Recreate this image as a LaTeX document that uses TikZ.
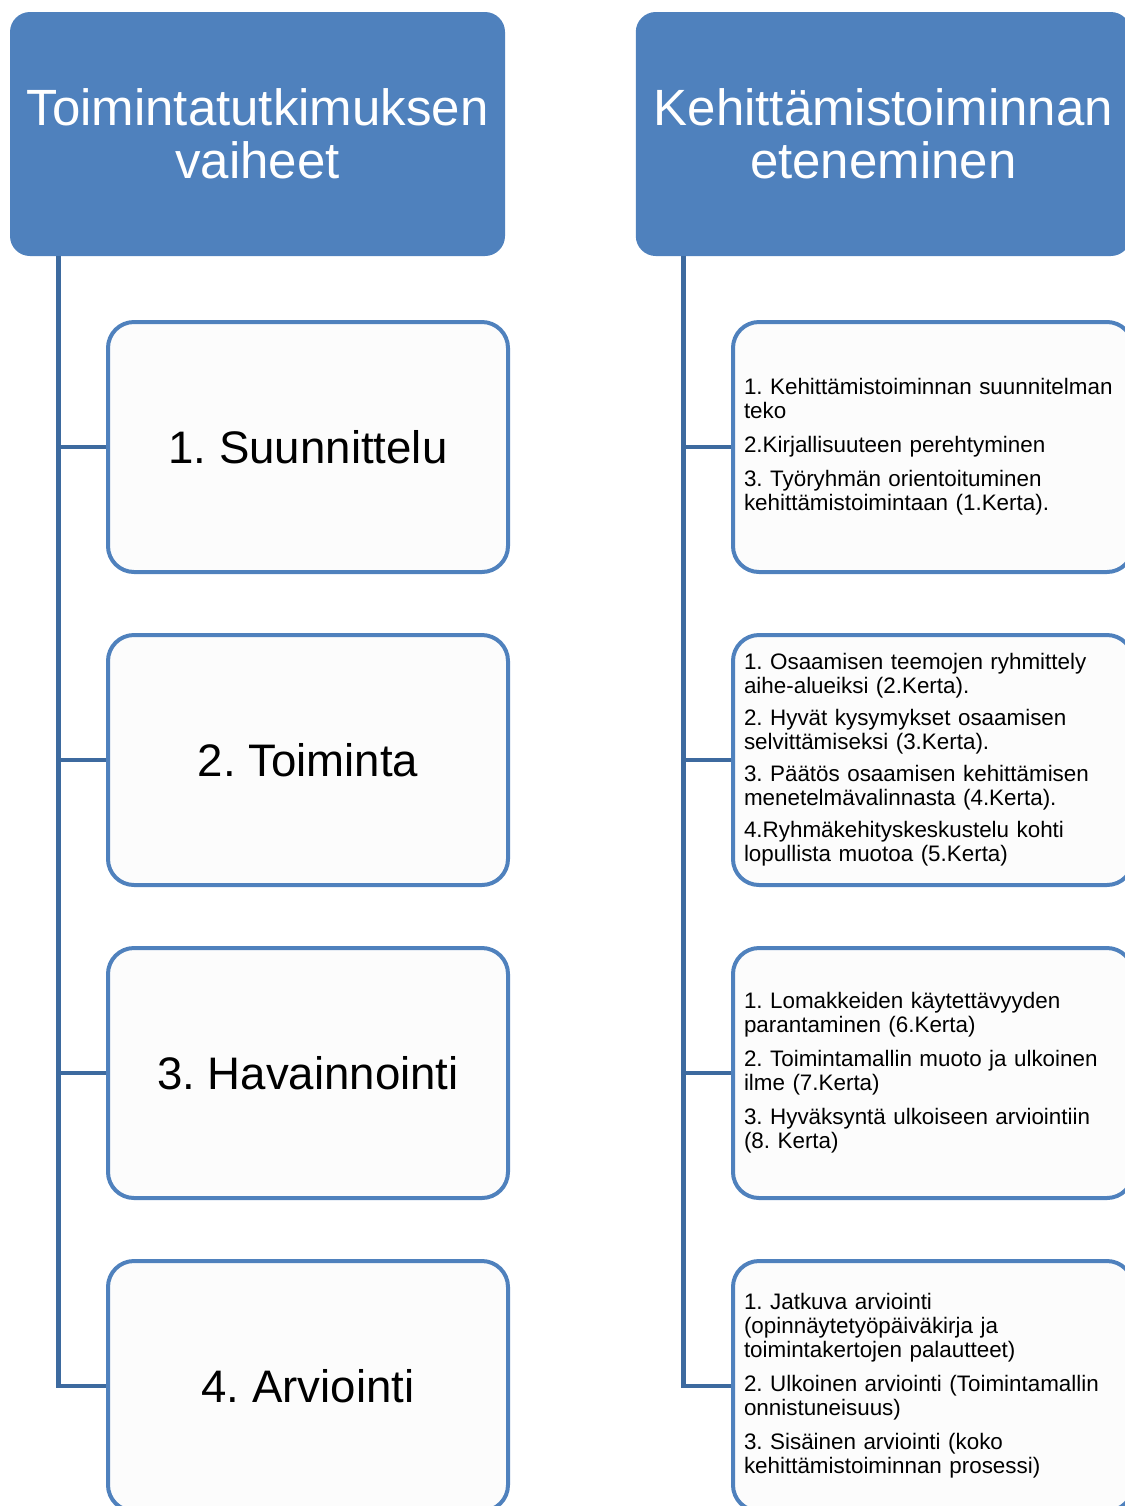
\documentclass[tikz,border=0pt]{standalone}
\usepackage{fontspec}
\setmainfont{Liberation Sans}
\usepackage{xcolor}
\usetikzlibrary{positioning,calc}

\definecolor{headblue}{HTML}{4F81BD}
\definecolor{lineblue}{HTML}{3D6A9F}
\definecolor{boxfill}{HTML}{FCFCFC}

\frenchspacing

\begin{document}
\begin{tikzpicture}[
    x=0.5pt, y=-0.5pt,
    header/.style={rectangle, rounded corners=10pt, fill=headblue, minimum width=247.5pt, minimum height=122pt, align=center, text=white, font=\fontsize{25.5}{26.5}\selectfont},
    phase/.style={rectangle, rounded corners=13pt, draw=headblue, line width=2pt, fill=boxfill, minimum width=200pt, minimum height=125pt, align=center, font=\fontsize{22.8}{28}\selectfont},
    tasks/.style={phase, text width=189pt, inner xsep=5.5pt, align=left, font=\fontsize{11.2}{12}\selectfont},
    link/.style={draw=lineblue, line width=2.2pt}
]
\path[use as bounding box, clip] (0,0) rectangle (1125,1506);

% Headers
\node[header] (lhead) at (257.5,134) {Toimintatutkimuksen\\vaiheet};
\node[header, right=65pt of lhead] (rhead) {Kehittämistoiminnan\\eteneminen};

% Phases (left column)
\node[phase] (lbox1) at (308,447) {1. Suunnittelu};
\node[phase, below=29.5pt of lbox1] (lbox2) {2. Toiminta};
\node[phase, below=29.5pt of lbox2] (lbox3) {3. Havainnointi};
\node[phase, below=29.5pt of lbox3] (lbox4) {4. Arviointi};

% Progress (right column)
\node[tasks, right=110.5pt of lbox1] (rbox1) {
    1. Kehittämistoiminnan suunnitelman\\
    teko\\[5pt]
    2.Kirjallisuuteen perehtyminen\\[5pt]
    3. Työryhmän orientoituminen\\
    kehittämistoimintaan (1.Kerta).
};
\node[tasks, right=110.5pt of lbox2] (rbox2) {
    1. Osaamisen teemojen ryhmittely\\
    aihe-alueiksi (2.Kerta).\\[4pt]
    2. Hyvät kysymykset osaamisen\\
    selvittämiseksi (3.Kerta).\\[4pt]
    3. Päätös osaamisen kehittämisen\\
    menetelmävalinnasta (4.Kerta).\\[4pt]
    4.Ryhmäkehityskeskustelu kohti\\
    lopullista muotoa (5.Kerta)
};
\node[tasks, right=110.5pt of lbox3] (rbox3) {
    1. Lomakkeiden käytettävyyden\\
    parantaminen (6.Kerta)\\[5pt]
    2. Toimintamallin muoto ja ulkoinen\\
    ilme (7.Kerta)\\[5pt]
    3. Hyväksyntä ulkoiseen arviointiin\\
    (8. Kerta)
};
\node[tasks, right=110.5pt of lbox4] (rbox4) {
    1. Jatkuva arviointi\\
    (opinnäytetyöpäiväkirja ja\\
    toimintakertojen palautteet)\\[5pt]
    2. Ulkoinen arviointi (Toimintamallin\\
    onnistuneisuus)\\[5pt]
    3. Sisäinen arviointi (koko\\
    kehittämistoiminnan prosessi)
};

% Trunks
\coordinate (ltop) at ($(lhead.south west)+(49,0)$);
\coordinate (rtop) at ($(rhead.south west)+(48,0)$);
\draw[link] (ltop) |- (lbox4.west);
\draw[link] (rtop) |- (rbox4.west);

% Branches
\draw[link] (ltop |- lbox1.west) -- (lbox1.west);
\draw[link] (ltop |- lbox2.west) -- (lbox2.west);
\draw[link] (ltop |- lbox3.west) -- (lbox3.west);
\draw[link] (rtop |- rbox1.west) -- (rbox1.west);
\draw[link] (rtop |- rbox2.west) -- (rbox2.west);
\draw[link] (rtop |- rbox3.west) -- (rbox3.west);

\end{tikzpicture}
\end{document}
